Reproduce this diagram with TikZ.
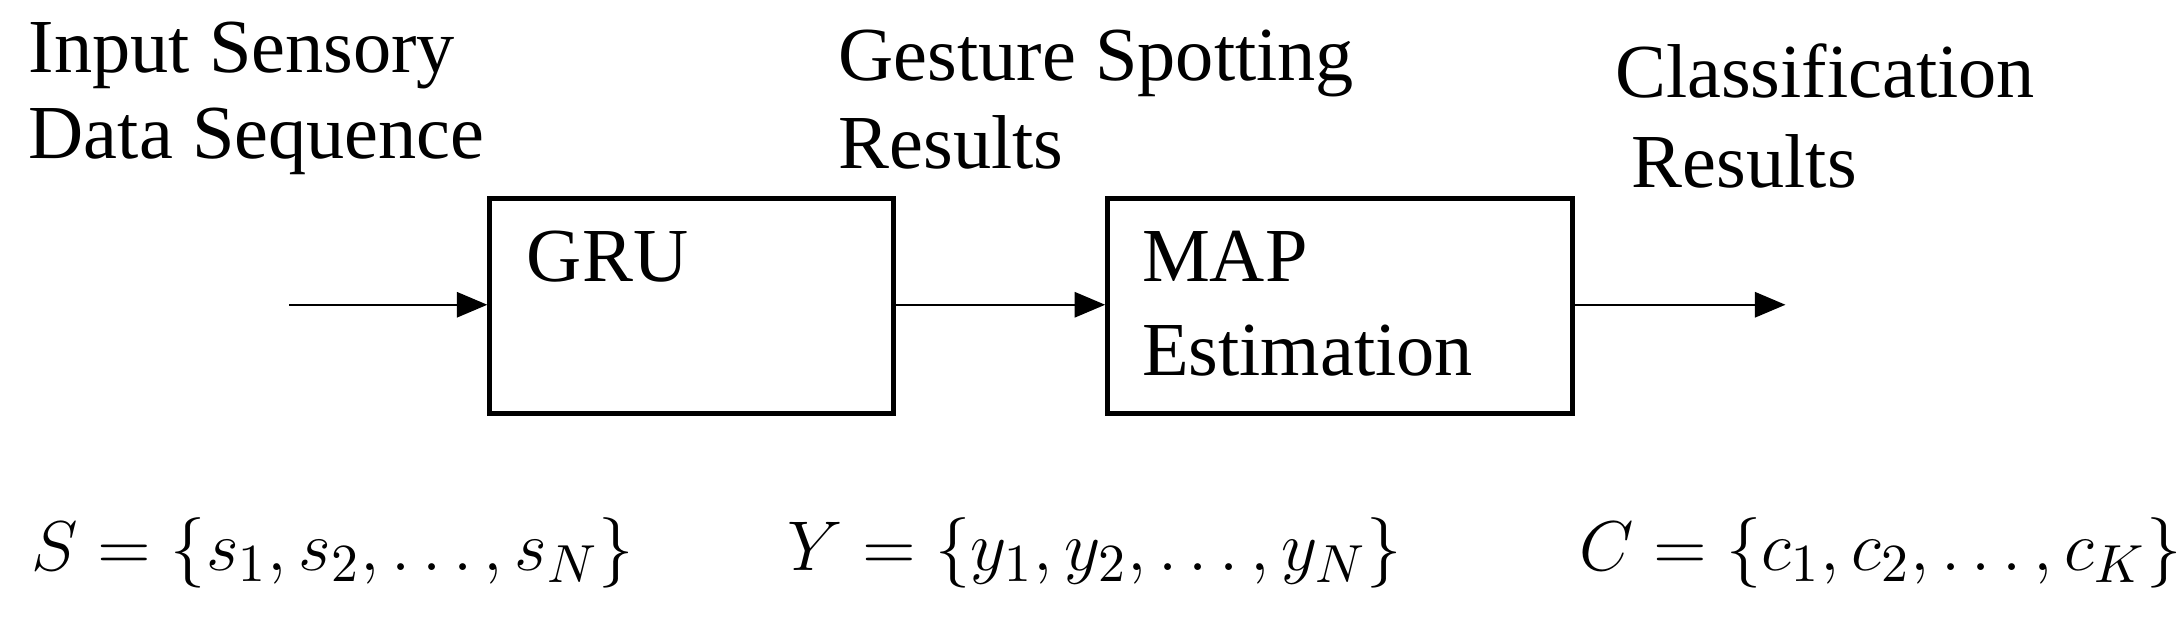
\documentclass[tikz,border=0pt]{standalone}
\usepackage{fontspec}
\setmainfont{Liberation Serif}
\usetikzlibrary{arrows}
\begin{document}
\begin{tikzpicture}[x=0.01cm,y=-0.01cm]
\tikzstyle{caja}=[draw,line width=1pt,minimum width=2.9cm,minimum height=1.54cm,inner sep=0pt]
\tikzstyle{texto}=[font=\fontsize{15.6}{18}\selectfont,anchor=base west,inner sep=0pt]
\useasboundingbox (0,0) rectangle (1568,445);
\node[caja] (gru) at (497,220) {};
\node[caja,minimum width=3.34cm] (map) at (963,220) {};
\node[texto] at (378,202) {GRU};
\node[texto] at (820,202) {MAP};
\node[texto] at (820,270) {Estimation};
\node[texto] at (20,52) {Input Sensory};
\node[texto] at (20,114) {Data Sequence};
\node[texto] at (602,58) {Gesture Spotting};
\node[texto] at (602,121) {Results};
\node[texto] at (1160,70) {Classification};
\node[texto] at (1172,135) {Results};
\node[texto] (S) at (22,410) {$S=\{s_1,s_2,\dots,s_N\}$};
\node[texto] (Y) at (565,410) {$Y=\{y_1,y_2,\dots,y_N\}$};
\node[texto,font=\fontsize{15}{18}\selectfont] (C) at (1134,410) {$C=\{c_1,c_2,\dots,c_K\}$};
\coordinate (ent) at (208,219);
\coordinate (sal) at (1283,219);
\draw [-triangle 45] (ent) -- (gru.west |- ent);
\draw [-triangle 45] (gru.east |- ent) -- (map.west |- ent);
\draw [-triangle 45] (map.east |- ent) -- (sal);
\end{tikzpicture}
\end{document}
